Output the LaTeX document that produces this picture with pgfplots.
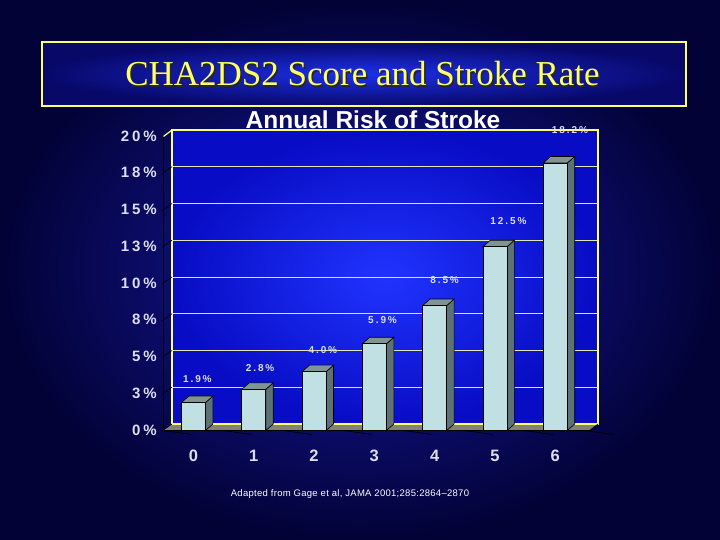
\documentclass[border=0pt]{standalone}
\usepackage{pgfplots}
\pgfplotsset{compat=1.18}
\usepackage{pgfplotstable}
\usepackage{fontspec}
\setmainfont{Liberation Sans}
\newfontfamily\titlefont{Liberation Serif}

\definecolor{slidedark}{RGB}{2,2,55}
\definecolor{slidemid}{RGB}{24,24,170}
\definecolor{walldark}{RGB}{8,12,196}
\definecolor{walllight}{RGB}{32,52,255}
\definecolor{gold}{RGB}{255,255,110}
\definecolor{gridc}{RGB}{228,228,185}
\definecolor{barfront}{RGB}{192,224,228}
\definecolor{bartop}{RGB}{128,148,148}
\definecolor{barside}{RGB}{92,114,116}
\definecolor{floorc}{RGB}{130,130,122}
\definecolor{lbl}{RGB}{222,222,242}

\newcommand\tickfont{\bfseries\fontsize{15}{17}\selectfont\addfontfeatures{LetterSpace=20}}
\newcommand\catfont{\bfseries\fontsize{16.5}{18}\selectfont}
\newcommand\valfont{\bfseries\fontsize{10}{12}\selectfont\addfontfeatures{LetterSpace=20}}

% stroke rate by CHA2DS2 score
\pgfplotstableread{
x v
0 1.9
1 2.8
2 4.0
3 5.9
4 8.5
5 12.5
6 18.2
}\riskdata

% where the value labels sit
\pgfplotstableread{
x y t
-0.06 3.06 1.9\,\%
0.98 3.81 2.8\,\%
2.02 5.03 4.0\,\%
3.01 7.07 5.9\,\%
4.04 9.80 8.5\,\%
5.10 13.81 12.5\%
6.12 20.0 18.2\%
}\labeldata

\begin{document}
\begin{tikzpicture}[x=1pt,y=1pt]
% slide background
\shade[inner color=slidemid, outer color=slidedark] (0,0) rectangle (720,540);

% title box
\shade[inner color={rgb,255:red,28;green,48;blue,235}, outer color={rgb,255:red,8;green,8;blue,105}] (42,434) rectangle (686,498);
\draw[gold, line width=1.2pt] (42,434) rectangle (686,498);
\node[anchor=base, text=black!85, font=\titlefont\fontsize{35}{40}\selectfont] at (364,452.3) {CHA2DS2 Score and Stroke Rate};
\node[anchor=base, text=gold, font=\titlefont\fontsize{35}{40}\selectfont] at (362.5,454) {CHA2DS2 Score and Stroke Rate};

\begin{axis}[
  at={(200.94pt,116pt)}, anchor=origin,
  scale only axis, width=426pt, height=294pt,
  xmin=-0.48, xmax=6.585, ymin=0, ymax=20,
  clip=false,
  axis background/.style={shade, inner color=walllight, outer color=walldark},
  axis line style={draw=gold, line width=1.3pt},
  ymajorgrids, grid style={draw=gridc, line width=0.7pt},
  major tick length=0pt,
  xtick={0,1,2,3,4,5,6},
  xticklabels={0,1,2,3,4,5,6},
  ytick={0,2.5,5,7.5,10,12.5,15,17.5,20},
  yticklabels={0\%,3\%,5\%,8\%,10\%,13\%,15\%,18\%,20\%},
  yticklabel style={anchor=east, inner sep=0pt, xshift=-15pt, yshift=-6pt, text=lbl, font=\tickfont},
  xticklabel style={anchor=center, inner sep=0pt, xshift=-7.5pt, yshift=-32pt, text=lbl, font=\catfont},
]
% floor
\fill[floorc] (rel axis cs:0,0) -- (rel axis cs:1,0) -- ([shift={(-8.5pt,-6.5pt)}]rel axis cs:1,0) -- ([shift={(-8.5pt,-6.5pt)}]rel axis cs:0,0) -- cycle;
\draw[gold, line width=1.3pt] (rel axis cs:0,0) -- (rel axis cs:1,0);
\draw[black, line width=0.6pt] ([shift={(-8.5pt,-6.5pt)}]rel axis cs:0,0) -- ([shift={(-8.5pt,-6.5pt)}]rel axis cs:1,0) -- (rel axis cs:1,0);
% left side edge
\draw[black, line width=0.6pt] ([shift={(-8.5pt,-6.5pt)}]rel axis cs:0,0) -- ([shift={(-8.5pt,-6.5pt)}]rel axis cs:0,1);
\draw[gold, line width=1.2pt] (rel axis cs:0,1) -- ++(-8.5pt,-6.5pt);
% slanted ticks
\pgfplotsinvokeforeach{0,2.5,5,7.5,10,12.5,15,17.5}{
  \draw[black, line width=0.6pt] (axis cs:-0.48,#1) -- ++(-10pt,-7pt);
}
\pgfplotsinvokeforeach{-0.48,0.5,1.5,2.5,3.5,4.5,5.5,6.5}{
  \draw[black, line width=0.6pt] ([shift={(-8.5pt,-6.5pt)}]axis cs:#1,0) -- ++(0,-4pt);
}

% 3-D bars
\addplot[
  scatter, only marks, mark=*, mark size=0pt, mark options={draw=none, fill=none},
  visualization depends on={\thisrow{v} \as \barv},
  scatter/@pre marker code/.code={%
    \pgfmathsetmacro\hb{-\barv*14.7-6.5}%
    \pgfmathsetmacro\ht{-\barv*14.7}%
    \filldraw[fill=barside, draw=black, line width=0.6pt] (4.5pt,-6.5pt) -- (12pt,0pt) -- (12pt,\ht pt) -- (4.5pt,\hb pt) -- cycle;
    \filldraw[fill=bartop, draw=black, line width=0.6pt] (-19.5pt,-6.5pt) -- (4.5pt,-6.5pt) -- (12pt,0pt) -- (-12pt,0pt) -- cycle;
    \filldraw[fill=barfront, draw=black, line width=0.6pt] (-19.5pt,-6.5pt) rectangle (4.5pt,\hb pt);
  },
  scatter/@post marker code/.code={},
] table[x=x, y=v] {\riskdata};

% value labels
\addplot[
  only marks, mark=*, mark size=0pt, mark options={draw=none, fill=none},
  point meta=explicit symbolic,
  nodes near coords,
  every node near coord/.style={anchor=center, inner sep=0pt, text=lbl, font=\valfont},
] table[x=x, y=y, meta=t] {\labeldata};
\end{axis}

\node[anchor=base, text=white, font=\bfseries\fontsize{24.5}{28}\selectfont] at (373,411) {Annual Risk of Stroke};
\node[anchor=base, text=white, font=\fontsize{9.5}{11}\selectfont\addfontfeatures{LetterSpace=3}] at (350,43) {Adapted from Gage et al, JAMA 2001;285:2864--2870};
\end{tikzpicture}
\end{document}
